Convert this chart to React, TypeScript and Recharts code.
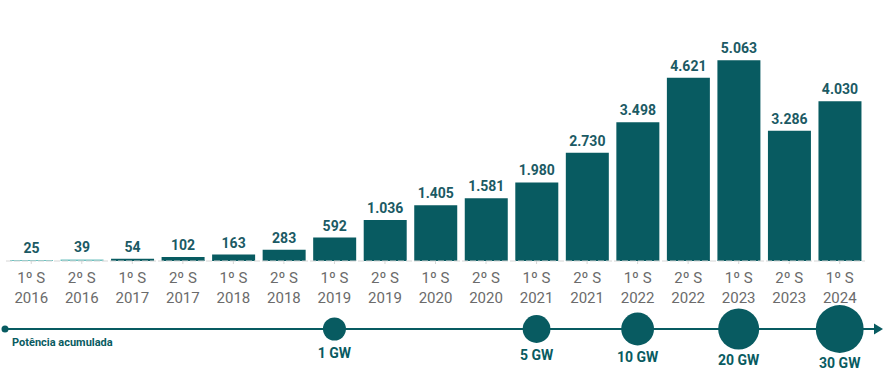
import React from 'react';
import {
  BarChart,
  Bar,
  XAxis,
  YAxis,
  Cell,
  LabelList,
  ComposedChart,
  Scatter,
  ZAxis,
} from 'recharts';

// semestres (linha 1 e linha 2 do rótulo)
const semesters = ['1º S', '2º S', '1º S', '2º S', '1º S', '2º S', '1º S', '2º S', '1º S', '2º S', '1º S', '2º S', '1º S', '2º S', '1º S', '2º S', '1º S'];
const years = ['2016', '2016', '2017', '2017', '2018', '2018', '2019', '2019', '2020', '2020', '2021', '2021', '2022', '2022', '2023', '2023', '2024'];
// potência instalada no semestre (MW)
const installed = [25, 39, 54, 102, 163, 283, 592, 1036, 1405, 1581, 1980, 2730, 3498, 4621, 5063, 3286, 4030];

// marcos de potência acumulada (GW) e o semestre em que foram atingidos
const milestonePeriods = ['1º S 2019', '1º S 2021', '1º S 2022', '1º S 2023', '1º S 2024'];
const milestoneGW = [1, 5, 10, 20, 30];

const TEAL = '#085b61';
const LIGHT_TEAL = '#6fc2c0';
const FONT = 'Roboto, "Noto Sans", sans-serif';

const fmt = (v: number) => String(v).replace(/\B(?=(\d{3})+(?!\d))/g, '.');

const barData = installed.map((v, i) => ({
  period: `${semesters[i]} ${years[i]}`,
  semester: semesters[i],
  year: years[i],
  mw: v,
}));

const bubbleData = barData.map((d) => {
  const k = milestonePeriods.indexOf(d.period);
  return { period: d.period, y: k >= 0 ? 0 : null, gw: k >= 0 ? milestoneGW[k] : null };
});

const PeriodTick = ({ x, y, payload }: any) => {
  const idx = barData.findIndex((d) => d.period === payload.value);
  const d = barData[idx];
  return (
    <g transform={`translate(${x},${y})`}>
      <text textAnchor="middle" fill="#6b6b6b" fontSize={15} fontFamily={FONT}>
        <tspan x={0} dy={17}>{d ? d.semester : ''}</tspan>
        <tspan x={0} dy={20}>{d ? d.year : ''}</tspan>
      </text>
    </g>
  );
};

const Bubble = (props: any) => {
  const { cx, cy, size, payload } = props;
  if (payload == null || payload.gw == null || cx == null || cy == null) return null;
  const r = Math.sqrt((size ?? 400) / Math.PI);
  return (
    <g>
      <circle cx={cx} cy={cy} r={r} fill={TEAL} />
      <text x={cx} y={cy + 20 + r * 0.8} textAnchor="middle" fill={TEAL} fontSize={14} fontWeight={700} fontFamily={FONT}>
        {payload.gw} GW
      </text>
    </g>
  );
};

export default function App() {
  return (
    <div style={{ position: 'absolute', left: 0, top: 0, width: 886, height: 373, background: '#fff', overflow: 'hidden' }}>
      <div style={{ position: 'absolute', left: 0, top: 0 }}>
        <BarChart width={886} height={311} data={barData} margin={{ top: 31, right: 21, bottom: 0, left: 6 }} barCategoryGap={4}>
          <XAxis
            dataKey="period"
            interval={0}
            height={50}
            stroke="#d6d6d6"
            strokeDasharray="6 2"
            tickSize={3}
            tick={<PeriodTick />}
          />
          <YAxis hide domain={[0, 5800]} />
          <Bar dataKey="mw" isAnimationActive={false}>
            {barData.map((d, i) => (
              <Cell key={d.period} fill={i < 2 ? LIGHT_TEAL : TEAL} />
            ))}
            <LabelList
              dataKey="mw"
              position="top"
              offset={7}
              formatter={(v: any) => fmt(Number(v))}
              fill="#1b5a64"
              fontSize={14}
              fontWeight={700}
              fontFamily={FONT}
            />
          </Bar>
        </BarChart>
      </div>

      {/* linha do tempo da potência acumulada */}
      <svg width={886} height={373} style={{ position: 'absolute', left: 0, top: 0 }}>
        <line x1={5} y1={329} x2={876} y2={329} stroke={TEAL} strokeWidth={2} />
        <circle cx={5} cy={329} r={3.5} fill={TEAL} />
        <polygon points="874,323.5 883,329 874,334.5" fill={TEAL} />
        <text x={12} y={346} fill={TEAL} fontSize={11} fontWeight={700} fontFamily={FONT}>
          Potência acumulada
        </text>
      </svg>

      <div style={{ position: 'absolute', left: 0, top: 290 }}>
        <ComposedChart width={886} height={83} data={bubbleData} margin={{ top: 0, right: 21, bottom: 5, left: 6 }}>
          <XAxis dataKey="period" hide interval={0} scale="band" />
          <YAxis hide domain={[-1, 1]} dataKey="y" />
          <ZAxis dataKey="gw" domain={[1, 30]} range={[415, 1800]} />
          <Scatter dataKey="y" shape={<Bubble />} isAnimationActive={false} />
        </ComposedChart>
      </div>
    </div>
  );
}
